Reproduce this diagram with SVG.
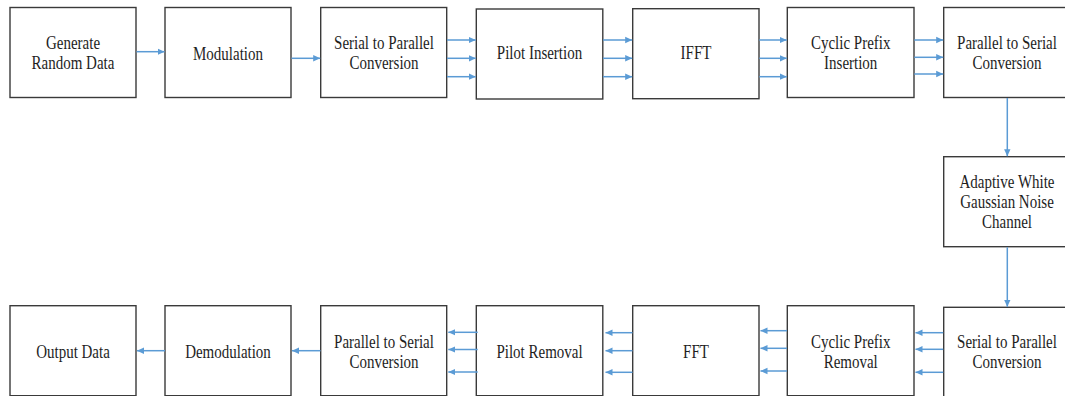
<svg xmlns="http://www.w3.org/2000/svg" width="1065" height="396" viewBox="0 0 1065 396">
  <defs>
    <style>
      .box { fill: #ffffff; stroke: #3a3a3a; stroke-width: 1.4; }
      .lbl { font-family: 'Liberation Serif', serif; font-size: 15px; fill: #1e1e1e; text-anchor: middle; }
      .wire { stroke: #5b9bd5; stroke-width: 1.5; fill: none; marker-end: url(#tip); }
    </style>
    <marker id="tip" markerUnits="userSpaceOnUse" markerWidth="8" markerHeight="8" refX="7" refY="4" orient="auto">
      <path d="M0,0.8 L7,4 L0,7.2 Z" fill="#5b9bd5"/>
    </marker>
  </defs>
  <rect width="1065" height="396" fill="#ffffff"/>

  <!-- transmitter chain -->
  <g id="gen-data">
    <rect class="box" x="10" y="7.5" width="126" height="90"/>
    <text class="lbl" font-family="Liberation Serif, serif" transform="translate(73,48.5) scale(1,1.3)"><tspan x="0" y="0">Generate</tspan><tspan x="0" dy="15.4">Random Data</tspan></text>
  </g>
  <g id="modulation">
    <rect class="box" x="165" y="7.5" width="126" height="90"/>
    <text class="lbl" font-family="Liberation Serif, serif" transform="translate(228,60) scale(1,1.3)"><tspan x="0" y="0">Modulation</tspan></text>
  </g>
  <g id="s2p-tx">
    <rect class="box" x="320.7" y="7.5" width="126" height="90"/>
    <text class="lbl" font-family="Liberation Serif, serif" transform="translate(384,49) scale(1,1.3)"><tspan x="0" y="0">Serial to Parallel</tspan><tspan x="0" dy="15.4">Conversion</tspan></text>
  </g>
  <g id="pilot-ins">
    <rect class="box" x="476.3" y="9" width="126.5" height="90"/>
    <text class="lbl" font-family="Liberation Serif, serif" transform="translate(539.5,59) scale(1,1.3)"><tspan x="0" y="0">Pilot Insertion</tspan></text>
  </g>
  <g id="ifft">
    <rect class="box" x="632.7" y="8.7" width="126.3" height="90"/>
    <text class="lbl" font-family="Liberation Serif, serif" transform="translate(696,59.3) scale(1,1.3)"><tspan x="0" y="0">IFFT</tspan></text>
  </g>
  <g id="cp-ins">
    <rect class="box" x="787.3" y="7.5" width="126.7" height="90"/>
    <text class="lbl" font-family="Liberation Serif, serif" transform="translate(850.7,49) scale(1,1.3)"><tspan x="0" y="0">Cyclic Prefix</tspan><tspan x="0" dy="15.4">Insertion</tspan></text>
  </g>
  <g id="p2s-tx">
    <rect class="box" x="943.7" y="7.5" width="126" height="90"/>
    <text class="lbl" font-family="Liberation Serif, serif" transform="translate(1007,49) scale(1,1.3)"><tspan x="0" y="0">Parallel to Serial</tspan><tspan x="0" dy="15.4">Conversion</tspan></text>
  </g>

  <!-- channel -->
  <g id="awgn">
    <rect class="box" x="943.7" y="156.7" width="126" height="90"/>
    <text class="lbl" font-family="Liberation Serif, serif" transform="translate(1007,187.5) scale(1,1.3)"><tspan x="0" y="0">Adaptive White</tspan><tspan x="0" dy="15.4">Gaussian Noise</tspan><tspan x="0" dy="15.4">Channel</tspan></text>
  </g>

  <!-- receiver chain -->
  <g id="s2p-rx">
    <rect class="box" x="943.7" y="307.3" width="126" height="90"/>
    <text class="lbl" font-family="Liberation Serif, serif" transform="translate(1007,347.5) scale(1,1.3)"><tspan x="0" y="0">Serial to Parallel</tspan><tspan x="0" dy="15.4">Conversion</tspan></text>
  </g>
  <g id="cp-rem">
    <rect class="box" x="787.3" y="305.7" width="126.7" height="90"/>
    <text class="lbl" font-family="Liberation Serif, serif" transform="translate(850.7,347.5) scale(1,1.3)"><tspan x="0" y="0">Cyclic Prefix</tspan><tspan x="0" dy="15.4">Removal</tspan></text>
  </g>
  <g id="fft">
    <rect class="box" x="632.7" y="305.7" width="126.3" height="90"/>
    <text class="lbl" font-family="Liberation Serif, serif" transform="translate(696,357.5) scale(1,1.3)"><tspan x="0" y="0">FFT</tspan></text>
  </g>
  <g id="pilot-rem">
    <rect class="box" x="476.3" y="305.7" width="126.5" height="90"/>
    <text class="lbl" font-family="Liberation Serif, serif" transform="translate(539.5,357.5) scale(1,1.3)"><tspan x="0" y="0">Pilot Removal</tspan></text>
  </g>
  <g id="p2s-rx">
    <rect class="box" x="320.7" y="305.7" width="126" height="90"/>
    <text class="lbl" font-family="Liberation Serif, serif" transform="translate(384,347.5) scale(1,1.3)"><tspan x="0" y="0">Parallel to Serial</tspan><tspan x="0" dy="15.4">Conversion</tspan></text>
  </g>
  <g id="demod">
    <rect class="box" x="165" y="305.7" width="126" height="90"/>
    <text class="lbl" font-family="Liberation Serif, serif" transform="translate(228,357.5) scale(1,1.3)"><tspan x="0" y="0">Demodulation</tspan></text>
  </g>
  <g id="output">
    <rect class="box" x="10" y="305.7" width="126" height="90"/>
    <text class="lbl" font-family="Liberation Serif, serif" transform="translate(73,357.5) scale(1,1.3)"><tspan x="0" y="0">Output Data</tspan></text>
  </g>

  <!-- connectors -->
  <g id="connectors">
    <line class="wire" x1="136.5" y1="51.7" x2="164.5" y2="51.7"/>
    <line class="wire" x1="291.5" y1="58.3" x2="320.2" y2="58.3"/>

    <line class="wire" x1="447" y1="40" x2="475.8" y2="40"/>
    <line class="wire" x1="447" y1="58.3" x2="475.8" y2="58.3"/>
    <line class="wire" x1="447" y1="76.7" x2="475.8" y2="76.7"/>

    <line class="wire" x1="603" y1="40" x2="632.2" y2="40"/>
    <line class="wire" x1="603" y1="58.3" x2="632.2" y2="58.3"/>
    <line class="wire" x1="603" y1="76.7" x2="632.2" y2="76.7"/>

    <line class="wire" x1="759.3" y1="40" x2="786.8" y2="40"/>
    <line class="wire" x1="759.3" y1="58.3" x2="786.8" y2="58.3"/>
    <line class="wire" x1="759.3" y1="76.7" x2="786.8" y2="76.7"/>

    <line class="wire" x1="914.3" y1="40" x2="943.2" y2="40"/>
    <line class="wire" x1="914.3" y1="57.3" x2="943.2" y2="57.3"/>
    <line class="wire" x1="914.3" y1="74" x2="943.2" y2="74"/>

    <line class="wire" x1="1007.3" y1="98" x2="1007.3" y2="156.2"/>
    <line class="wire" x1="1007.3" y1="247.3" x2="1007.3" y2="306.8"/>

    <line class="wire" x1="943.2" y1="332.7" x2="915.5" y2="332.7"/>
    <line class="wire" x1="943.2" y1="349.3" x2="915.5" y2="349.3"/>
    <line class="wire" x1="943.2" y1="372.3" x2="915.5" y2="372.3"/>

    <line class="wire" x1="787" y1="330.7" x2="760.5" y2="330.7"/>
    <line class="wire" x1="787" y1="348.3" x2="760.5" y2="348.3"/>
    <line class="wire" x1="787" y1="371" x2="760.5" y2="371"/>

    <line class="wire" x1="632.5" y1="332.7" x2="605.5" y2="332.7"/>
    <line class="wire" x1="632.5" y1="350.7" x2="605.5" y2="350.7"/>
    <line class="wire" x1="632.5" y1="372.3" x2="605.5" y2="372.3"/>

    <line class="wire" x1="477.7" y1="332.3" x2="448.3" y2="332.3"/>
    <line class="wire" x1="477.7" y1="349.5" x2="448.3" y2="349.5"/>
    <line class="wire" x1="477.7" y1="372" x2="448.3" y2="372"/>

    <line class="wire" x1="320.5" y1="350.7" x2="292" y2="350.7"/>
    <line class="wire" x1="165" y1="350.7" x2="137" y2="350.7"/>
  </g>
</svg>
